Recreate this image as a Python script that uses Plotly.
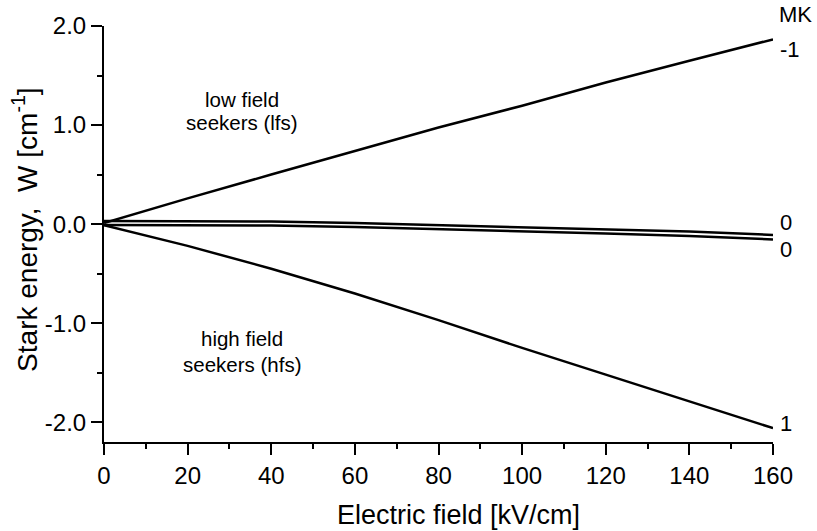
import plotly.graph_objects as go

# ---- data ----
field = [0, 20, 40, 60, 80, 100, 120, 140, 160]
w_mk_m1 = [0.01, 0.26, 0.50, 0.74, 0.975, 1.195, 1.43, 1.65, 1.865]
w_mk_0a = [0.03, 0.03, 0.025, 0.01, -0.01, -0.03, -0.05, -0.075, -0.11]
w_mk_0b = [-0.01, -0.01, -0.015, -0.03, -0.05, -0.07, -0.095, -0.12, -0.155]
w_mk_p1 = [-0.01, -0.22, -0.45, -0.70, -0.97, -1.25, -1.52, -1.79, -2.06]
series = [w_mk_m1, w_mk_0a, w_mk_0b, w_mk_p1]
series_labels = ["-1", "0", "0", "1"]
label_shift = [-10, 12, -10, 5]

x_tickvals = [0, 20, 40, 60, 80, 100, 120, 140, 160]
x_ticktext = ["0", "20", "40", "60", "80", "100", "120", "140", "160"]
y_tickvals = [2.0, 1.0, 0.0, -1.0, -2.0]
y_ticktext = ["2.0", "1.0", "0.0", "-1.0", "-2.0"]

FONT = "Liberation Sans, Arial, sans-serif"

fig = go.Figure()
for s in series:
    fig.add_trace(go.Scatter(x=field, y=s, mode="lines",
                             line=dict(color="black", width=2.5),
                             showlegend=False, hoverinfo="skip"))

ann = []
for s, lab, sh in zip(series, series_labels, label_shift):
    ann.append(dict(x=field[-1], y=s[-1], text=lab, showarrow=False,
                    xanchor="left", yanchor="middle", xshift=5, yshift=sh,
                    font=dict(size=22, color="black", family=FONT)))
ann.append(dict(x=field[-1], y=2.0, text="MK", showarrow=False,
                xanchor="left", yanchor="middle", xshift=4, yshift=12,
                font=dict(size=22, color="black", family=FONT)))
for txt, yy in [("low field", 1.26), ("seekers (lfs)", 1.03),
                ("high field", -1.15), ("seekers (hfs)", -1.42)]:
    ann.append(dict(x=33, y=yy, text=txt, showarrow=False,
                    xanchor="center", yanchor="middle",
                    font=dict(size=20.5, color="black", family=FONT)))
ann.append(dict(x=0.53, y=-0.175, xref="paper", yref="paper",
                text="Electric field [kV/cm]", showarrow=False,
                xanchor="center", yanchor="middle",
                font=dict(size=27, color="black", family=FONT)))
ann.append(dict(x=-0.118, y=0.51, xref="paper", yref="paper",
                text="Stark energy,  W [cm<sup>-1</sup>]", showarrow=False,
                textangle=-90, xanchor="center", yanchor="middle",
                font=dict(size=28, color="black", family=FONT)))

fig.update_layout(
    width=817, height=531,
    margin=dict(l=104, r=44, t=24, b=89),
    plot_bgcolor="white", paper_bgcolor="white",
    font=dict(family=FONT, size=24, color="black"),
    annotations=ann,
    xaxis=dict(range=[0, 160], showgrid=False, zeroline=False,
               showline=True, linecolor="black", linewidth=2,
               ticks="outside", ticklen=11, tickwidth=2, tickcolor="black",
               tickvals=x_tickvals, ticktext=x_ticktext,
               tickfont=dict(size=24, family=FONT),
               minor=dict(dtick=10, tick0=0, ticks="outside", ticklen=5,
                          tickwidth=2, tickcolor="black")),
    yaxis=dict(range=[-2.2, 2.0], showgrid=False, zeroline=False,
               showline=True, linecolor="black", linewidth=2,
               ticks="outside", ticklen=11, tickwidth=2, tickcolor="black",
               tickvals=y_tickvals, ticktext=y_ticktext,
               tickfont=dict(size=24, family=FONT),
               minor=dict(dtick=0.5, tick0=0, ticks="outside", ticklen=5,
                          tickwidth=2, tickcolor="black")),
)

fig.write_html("out.html")
